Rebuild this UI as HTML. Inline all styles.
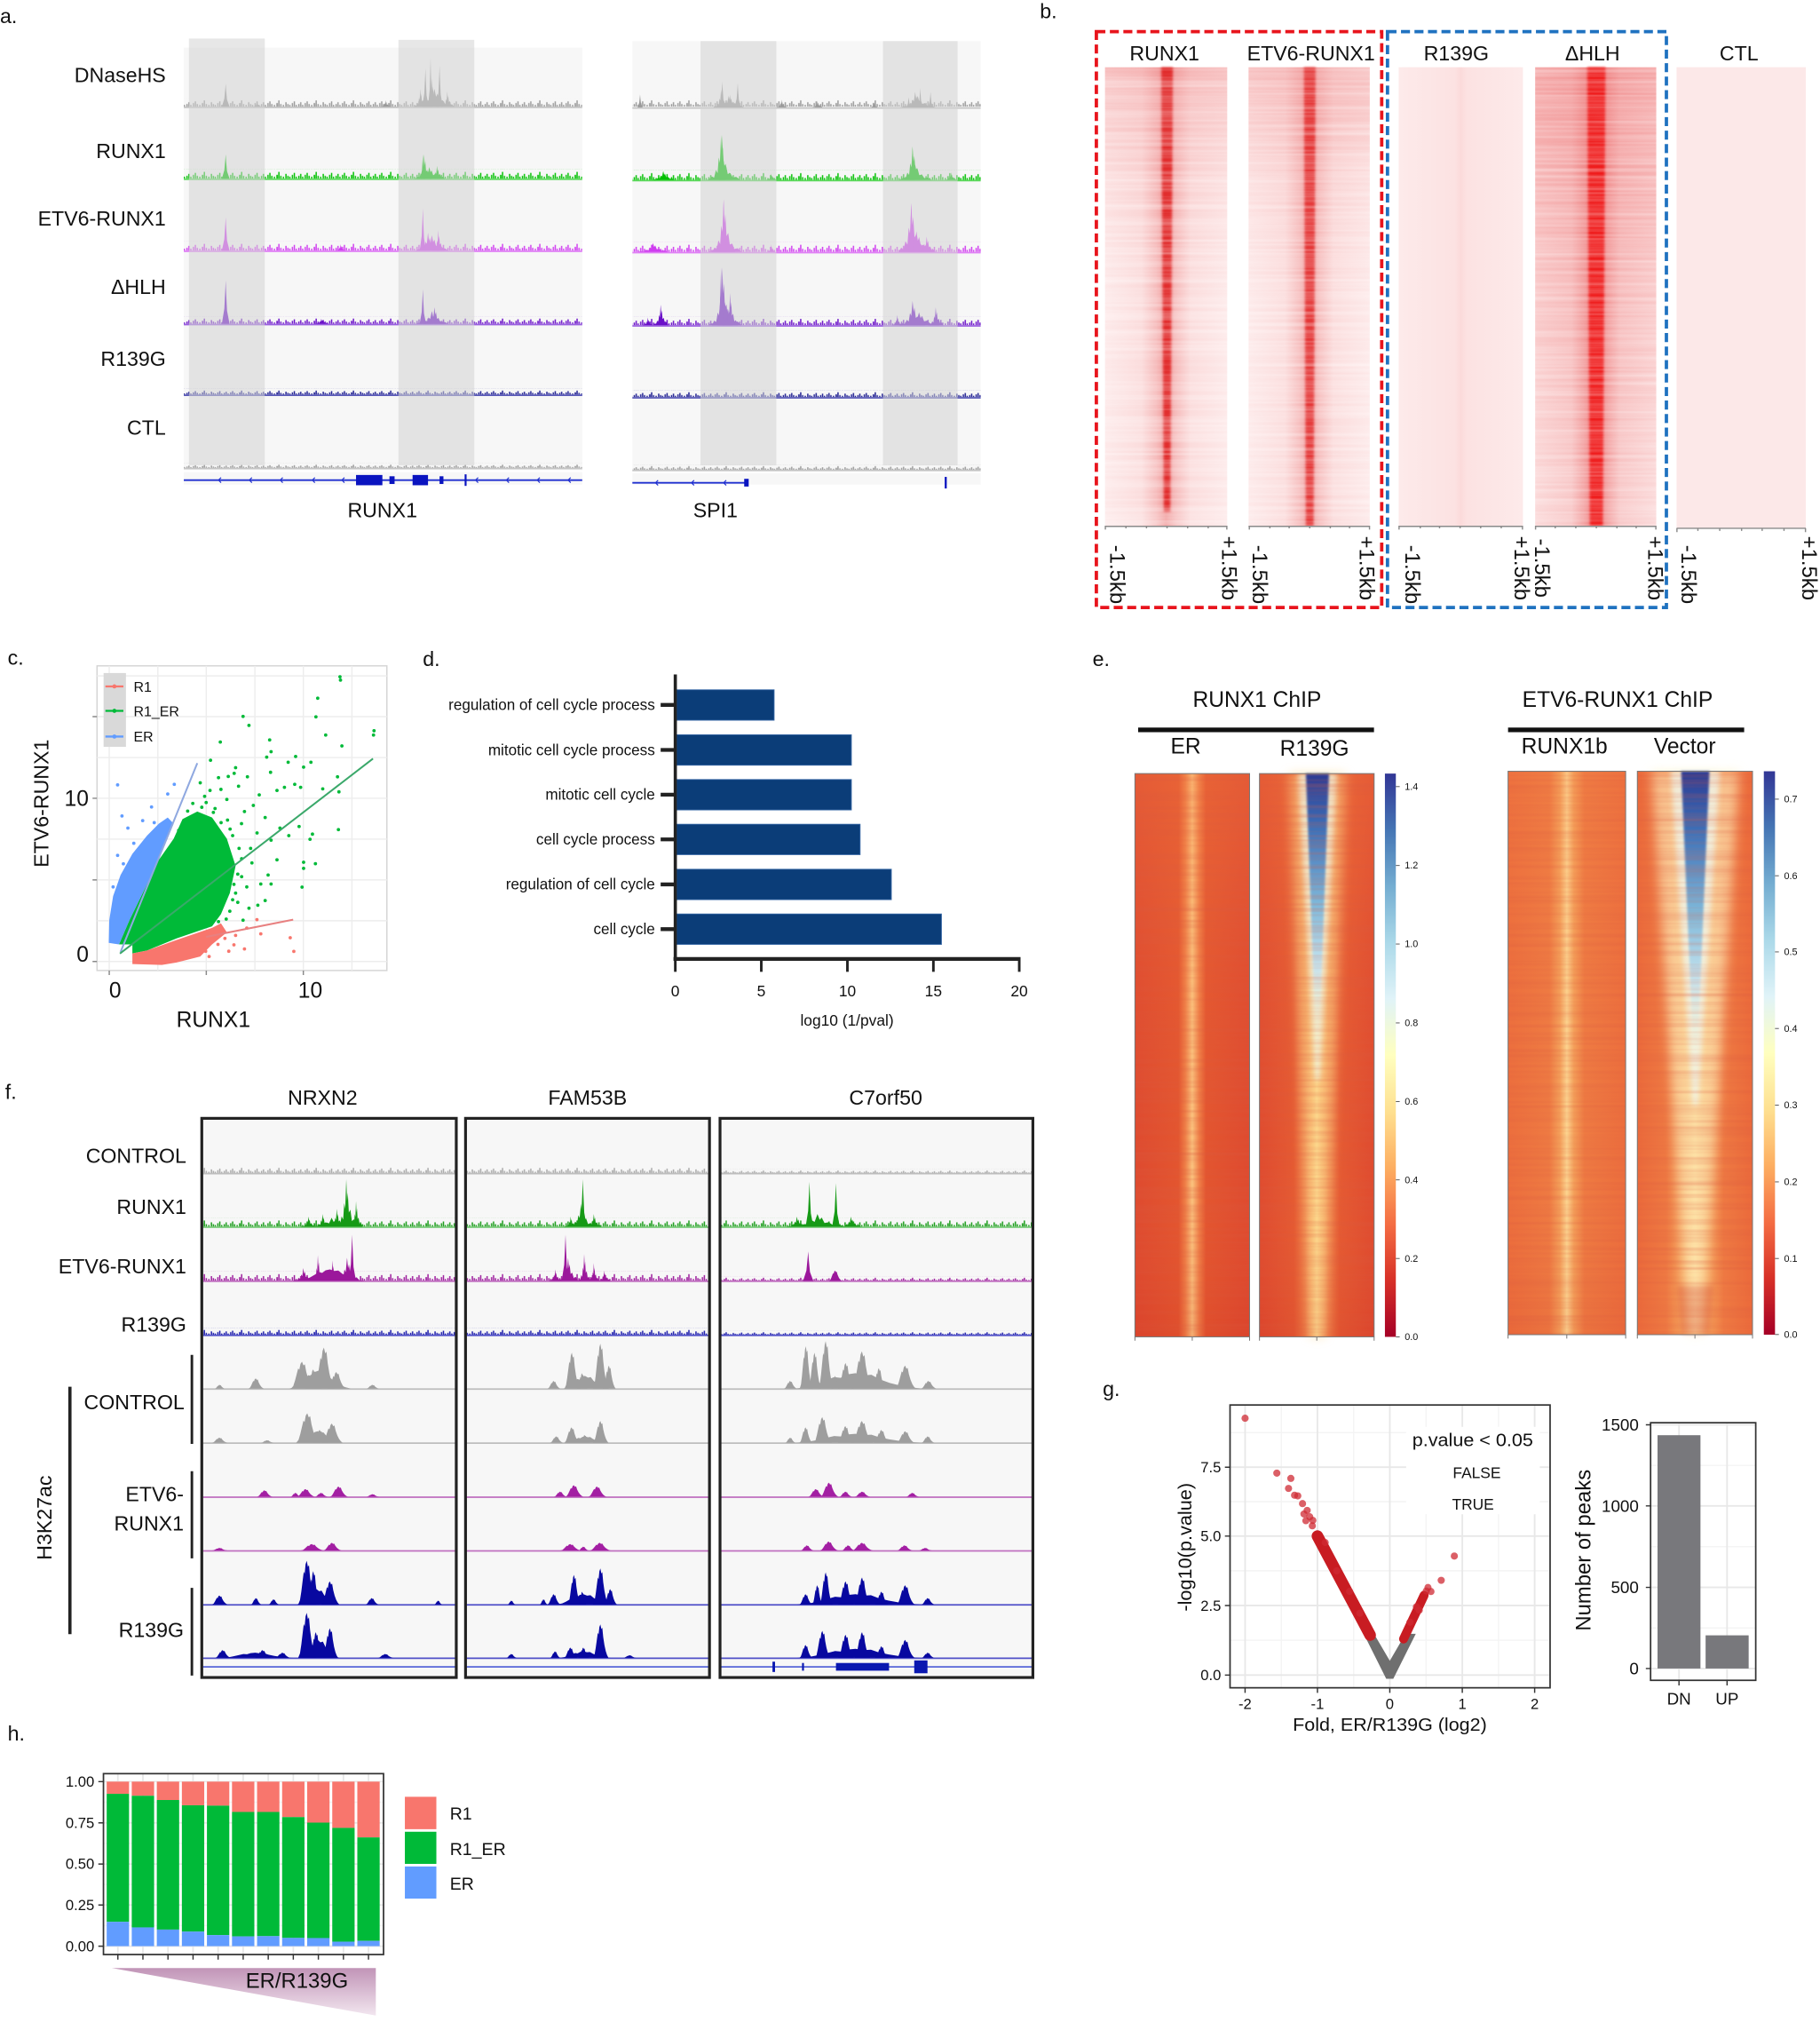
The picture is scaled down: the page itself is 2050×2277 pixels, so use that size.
<!DOCTYPE html>
<html><head><meta charset="utf-8"><style>
html,body{margin:0;padding:0;background:#fff;}
svg{display:block;}
text{font-family:"Liberation Sans",Arial,sans-serif;fill:#111;}
</style></head><body>
<svg width="2050" height="2277" viewBox="0 0 1416 1573" preserveAspectRatio="none">
<defs>
<path id="nzp" d="M0 10h1v-3h-1zM1.5 10h1v-5h-1zM3 10h1v-2h-1zM5 10h1v-4h-1zM6.5 10h1v-6h-1zM8 10h1v-3h-1zM10 10h1v-2h-1zM12 10h1.2v-4h-1.2zM13.5 10h1v-7h-1zM15 10h1v-3h-1zM17 10h1v-2h-1zM19 10h1v-5h-1zM20.5 10h1v-3h-1zM22 10h1v-2h-1zM24 10h1v-4h-1zM25.5 10h1v-6h-1zM27 10h1v-2h-1z"/>
<pattern id="pGy" width="29" height="10" patternUnits="userSpaceOnUse"><use href="#nzp" fill="#9a9a9a"/></pattern>
<pattern id="pGn" width="29" height="10" patternUnits="userSpaceOnUse"><use href="#nzp" fill="#00c000"/></pattern>
<pattern id="pMg" width="29" height="10" patternUnits="userSpaceOnUse"><use href="#nzp" fill="#d03cf0"/></pattern>
<pattern id="pPu" width="29" height="10" patternUnits="userSpaceOnUse"><use href="#nzp" fill="#6a10c8"/></pattern>
<pattern id="pNv" width="29" height="10" patternUnits="userSpaceOnUse"><use href="#nzp" fill="#1c1c90"/></pattern>
<pattern id="fGy" width="29" height="10" patternUnits="userSpaceOnUse"><use href="#nzp" fill="#a8a8a8"/></pattern>
<pattern id="fGn" width="29" height="10" patternUnits="userSpaceOnUse"><use href="#nzp" fill="#169a16"/></pattern>
<pattern id="fMg" width="29" height="10" patternUnits="userSpaceOnUse"><use href="#nzp" fill="#9b179b"/></pattern>
<pattern id="fBl" width="29" height="10" patternUnits="userSpaceOnUse"><use href="#nzp" fill="#1616a8"/></pattern>
<path id="pk" d="M-1 0L-.8-.08L-.6-.05L-.45-.22L-.3-.15L-.2-.5L-.1-.38L0-1L.08-.55L.15-.72L.25-.3L.4-.36L.55-.12L.75-.16L1 0Z"/>
<path id="sp" d="M-1 0L-.35-.35L-.1-.8L0-1L.12-.7L.35-.3L1 0Z"/>
<path id="bm" d="M-1 0L-.8-.1L-.65-.3L-.5-.55L-.38-.75L-.28-.7L-.18-.92L-.05-1L.08-.86L.2-.9L.32-.62L.48-.38L.65-.2L.82-.08L1 0Z"/>
<filter id="b1" x="-50%" y="-5%" width="200%" height="110%"><feGaussianBlur stdDeviation="1"/></filter>
<filter id="b2" x="-50%" y="-5%" width="200%" height="110%"><feGaussianBlur stdDeviation="2"/></filter>
<filter id="b4" x="-50%" y="-5%" width="200%" height="110%"><feGaussianBlur stdDeviation="4"/></filter>
<filter id="stk" x="0" y="0" width="1" height="1"><feTurbulence type="fractalNoise" baseFrequency="0.004 0.35" numOctaves="2" seed="3"/><feColorMatrix type="matrix" values="0 0 0 0 1 0 0 0 0 1 0 0 0 0 1 0.7 0 0 0 -0.22"/></filter>
<filter id="stkD" x="0" y="0" width="1" height="1"><feTurbulence type="fractalNoise" baseFrequency="0.004 0.3" numOctaves="2" seed="7"/><feColorMatrix type="matrix" values="0 0 0 0 0.7 0 0 0 0 0.1 0 0 0 0 0.05 0.6 0 0 0 -0.22"/></filter>
<linearGradient id="gbR"><stop offset="0" stop-color="#fde9e9"/><stop offset=".3" stop-color="#fbdcdc"/><stop offset=".42" stop-color="#f6bcbc"/><stop offset=".5" stop-color="#f09a9a"/><stop offset=".58" stop-color="#f6bcbc"/><stop offset=".7" stop-color="#fbdcdc"/><stop offset="1" stop-color="#fde9e9"/></linearGradient>
<linearGradient id="gbH"><stop offset="0" stop-color="#fbdada"/><stop offset=".3" stop-color="#f8c8c8"/><stop offset=".4" stop-color="#f3a3a3"/><stop offset=".5" stop-color="#ee7070"/><stop offset=".6" stop-color="#f3a3a3"/><stop offset=".7" stop-color="#f8c8c8"/><stop offset="1" stop-color="#fbdada"/></linearGradient>
<linearGradient id="gbW"><stop offset="0" stop-color="#fdeaea"/><stop offset=".45" stop-color="#fce2e2"/><stop offset=".5" stop-color="#fbdada"/><stop offset=".55" stop-color="#fce2e2"/><stop offset="1" stop-color="#fdeaea"/></linearGradient>
<linearGradient id="gTint" x1="0" y1="0" x2="0" y2="1"><stop offset="0" stop-color="#eb6e6e" stop-opacity=".35"/><stop offset=".25" stop-color="#eb6e6e" stop-opacity=".08"/><stop offset=".5" stop-color="#eb6e6e" stop-opacity="0"/></linearGradient>
<linearGradient id="gTintH" x1="0" y1="0" x2="0" y2="1"><stop offset="0" stop-color="#eb6060" stop-opacity=".45"/><stop offset=".5" stop-color="#eb6060" stop-opacity=".15"/><stop offset="1" stop-color="#eb6060" stop-opacity="0"/></linearGradient>
<linearGradient id="gE1"><stop offset="0" stop-color="#de4a2f"/><stop offset=".38" stop-color="#e3552f"/><stop offset=".44" stop-color="#ef8048"/><stop offset=".5" stop-color="#fbc47f"/><stop offset=".56" stop-color="#ef8048"/><stop offset=".62" stop-color="#e3552f"/><stop offset="1" stop-color="#de4a2f"/></linearGradient>
<linearGradient id="gE2"><stop offset="0" stop-color="#df4b2f"/><stop offset=".3" stop-color="#e55a32"/><stop offset=".4" stop-color="#ee7d45"/><stop offset=".46" stop-color="#f8b26a"/><stop offset=".5" stop-color="#fddc8f"/><stop offset=".54" stop-color="#f8b26a"/><stop offset=".6" stop-color="#ee7d45"/><stop offset=".7" stop-color="#e55a32"/><stop offset="1" stop-color="#df4b2f"/></linearGradient>
<linearGradient id="gE3"><stop offset="0" stop-color="#ec6e3d"/><stop offset=".35" stop-color="#ee7a42"/><stop offset=".44" stop-color="#f4a05a"/><stop offset=".5" stop-color="#fcd590"/><stop offset=".56" stop-color="#f4a05a"/><stop offset=".65" stop-color="#ee7a42"/><stop offset="1" stop-color="#ec6e3d"/></linearGradient>
<linearGradient id="gE4"><stop offset="0" stop-color="#eb6a3b"/><stop offset=".25" stop-color="#ee7942"/><stop offset=".4" stop-color="#f5a35c"/><stop offset=".5" stop-color="#fbc97e"/><stop offset=".6" stop-color="#f5a35c"/><stop offset=".75" stop-color="#ee7942"/><stop offset="1" stop-color="#eb6a3b"/></linearGradient>
<linearGradient id="gEv" x1="0" y1="0" x2="0" y2="1"><stop offset="0" stop-color="#f58246" stop-opacity=".3"/><stop offset=".35" stop-color="#f58246" stop-opacity=".08"/><stop offset=".7" stop-color="#f58246" stop-opacity="0"/><stop offset="1" stop-color="#be1414" stop-opacity=".12"/></linearGradient>
<linearGradient id="gFun" x1="0" y1="0" x2="0" y2="1"><stop offset="0" stop-color="#2d3a92"/><stop offset=".2" stop-color="#3d6db5"/><stop offset=".5" stop-color="#7fb8da"/><stop offset=".75" stop-color="#c9e6ef"/><stop offset="1" stop-color="#f0f8dc" stop-opacity="0"/></linearGradient>
<linearGradient id="cbar" x1="0" y1="1" x2="0" y2="0"><stop offset="0" stop-color="#a50026"/><stop offset=".1" stop-color="#d73027"/><stop offset=".2" stop-color="#f46d43"/><stop offset=".3" stop-color="#fdae61"/><stop offset=".4" stop-color="#fee090"/><stop offset=".5" stop-color="#ffffbf"/><stop offset=".6" stop-color="#e0f3f8"/><stop offset=".7" stop-color="#abd9e9"/><stop offset=".8" stop-color="#74add1"/><stop offset=".9" stop-color="#4575b4"/><stop offset="1" stop-color="#313695"/></linearGradient>
<linearGradient id="gTri" x1="0" y1="0" x2="0" y2="1"><stop offset="0" stop-color="#c194b7"/><stop offset="1" stop-color="#f2e6ef"/></linearGradient>
</defs>
<rect width="1416" height="1573" fill="#fff"/>

<!-- ================= PANEL A ================= -->
<text x="0" y="18" font-size="16">a.</text>
<rect x="143" y="37" width="310" height="340" fill="#f7f7f7"/>
<rect x="492" y="32" width="271" height="345" fill="#f7f7f7"/>
<path d="M143 366.5H453M492 367.5H763" stroke="#fff" stroke-width="1.5"/>
<g transform="translate(0 83) scale(1 .7)"><rect x="143" y="-10" width="310" height="10" fill="url(#pGy)"/><rect x="492" y="-10" width="271" height="10" fill="url(#pGy)"/></g>
<g transform="translate(0 139) scale(1 .75)"><rect x="143" y="-10" width="310" height="10" fill="url(#pGn)"/></g>
<g transform="translate(0 140) scale(1 .75)"><rect x="492" y="-10" width="271" height="10" fill="url(#pGn)"/></g>
<g transform="translate(0 195) scale(1 .75)"><rect x="143" y="-10" width="310" height="10" fill="url(#pMg)"/></g>
<g transform="translate(0 196) scale(1 .8)"><rect x="492" y="-10" width="271" height="10" fill="url(#pMg)"/></g>
<g transform="translate(0 252) scale(1 .6)"><rect x="143" y="-10" width="310" height="10" fill="url(#pPu)"/></g>
<g transform="translate(0 253) scale(1 .7)"><rect x="492" y="-10" width="271" height="10" fill="url(#pPu)"/></g>
<g transform="translate(0 307) scale(1 .45)"><rect x="143" y="-10" width="310" height="10" fill="url(#pNv)"/></g>
<g transform="translate(0 309) scale(1 .55)"><rect x="492" y="-10" width="271" height="10" fill="url(#pNv)"/></g>
<g transform="translate(0 364) scale(1 .35)"><rect x="143" y="-10" width="310" height="10" fill="url(#pGy)"/></g>
<g transform="translate(0 365.5) scale(1 .4)"><rect x="492" y="-10" width="271" height="10" fill="url(#pGy)"/></g>
<g stroke-width="1.2" fill="none">
<path d="M143 83.5H453M492 84H763M143 364.5H453M492 366H763" stroke="#c4c4c4"/>
<path d="M143 139.5H453M492 140.5H763" stroke="#5ad85a"/>
<path d="M143 195.5H453M492 196.5H763" stroke="#e080f5"/>
<path d="M143 252.5H453M492 253.5H763" stroke="#9a60e0"/>
<path d="M143 307.5H453M492 309.5H763" stroke="#5a5ab8"/>
</g>
<g fill="#9a9a9a">
<use href="#sp" transform="translate(175.6 83) scale(3 18)"/><use href="#pk" transform="translate(338 83) scale(16 14)"/><use href="#pk" transform="translate(327 83) scale(5 14)"/><use href="#sp" transform="translate(331 83) scale(2.5 30)"/><use href="#pk" transform="translate(336 83) scale(6 22)"/><use href="#sp" transform="translate(335 83) scale(2 38)"/><use href="#sp" transform="translate(342 83) scale(2.5 32)"/><use href="#pk" transform="translate(348 83) scale(5 12)"/><use href="#pk" transform="translate(300 83) scale(4 5)"/><use href="#pk" transform="translate(200 83) scale(3 4)"/>
<use href="#sp" transform="translate(498 83.5) scale(2 10)"/><use href="#pk" transform="translate(567 83.5) scale(12 9)"/><use href="#pk" transform="translate(561 83.5) scale(6 14)"/><use href="#sp" transform="translate(562 83.5) scale(2.5 20)"/><use href="#sp" transform="translate(574 83.5) scale(2.5 19)"/><use href="#pk" transform="translate(568 83.5) scale(5 10)"/><use href="#pk" transform="translate(714 83.5) scale(14 9)"/><use href="#pk" transform="translate(712 83.5) scale(10 12)"/><use href="#sp" transform="translate(707 83.5) scale(2 8)"/><use href="#sp" transform="translate(716 83.5) scale(2 15)"/><use href="#sp" transform="translate(724 83.5) scale(2 12)"/><use href="#pk" transform="translate(608 83.5) scale(4 6)"/><use href="#pk" transform="translate(636 83.5) scale(4 5)"/><use href="#pk" transform="translate(680 83.5) scale(3 4)"/>
</g>
<g fill="#00c000">
<use href="#sp" transform="translate(175.6 139) scale(3 19)"/><use href="#pk" transform="translate(334 139) scale(12 9)"/><use href="#pk" transform="translate(330 139) scale(6 19)"/><use href="#sp" transform="translate(329 139) scale(2 19)"/><use href="#pk" transform="translate(340 139) scale(6 10)"/>
<use href="#pk" transform="translate(563 140) scale(13 15)"/><use href="#pk" transform="translate(561 140) scale(9 35)"/><use href="#sp" transform="translate(562 140) scale(2.5 35)"/><use href="#pk" transform="translate(712 140) scale(13 12)"/><use href="#pk" transform="translate(710 140) scale(9 26)"/><use href="#sp" transform="translate(710 140) scale(2 26)"/><use href="#pk" transform="translate(516 140) scale(9 7)"/><use href="#pk" transform="translate(740 140) scale(4 6)"/><use href="#pk" transform="translate(600 140) scale(4 5)"/>
</g>
<g fill="#cf3cf0">
<use href="#sp" transform="translate(175.6 195) scale(3 26)"/><use href="#pk" transform="translate(336 195) scale(13 12)"/><use href="#sp" transform="translate(329 195) scale(2.5 33)"/><use href="#pk" transform="translate(333 195) scale(9 14)"/><use href="#pk" transform="translate(341 195) scale(5 16)"/><use href="#pk" transform="translate(265 195) scale(4 5)"/>
<use href="#pk" transform="translate(564 196) scale(13 18)"/><use href="#pk" transform="translate(563 196) scale(9 41)"/><use href="#sp" transform="translate(563 196) scale(2.5 41)"/><use href="#pk" transform="translate(713 196) scale(14 16)"/><use href="#pk" transform="translate(709 196) scale(10 38)"/><use href="#sp" transform="translate(709 196) scale(2.5 38)"/><use href="#pk" transform="translate(721 196) scale(7 12)"/><use href="#pk" transform="translate(508 196) scale(12 7)"/><use href="#pk" transform="translate(600 196) scale(3 6)"/>
</g>
<g fill="#6a10c8">
<use href="#sp" transform="translate(175.6 252) scale(3 34)"/><use href="#pk" transform="translate(336 252) scale(13 10)"/><use href="#sp" transform="translate(329 252) scale(2.5 27)"/><use href="#pk" transform="translate(338 252) scale(8 13)"/><use href="#pk" transform="translate(250 252) scale(6 4)"/>
<use href="#pk" transform="translate(564 253) scale(13 18)"/><use href="#pk" transform="translate(562 253) scale(8 45)"/><use href="#sp" transform="translate(561 253) scale(2.5 45)"/><use href="#pk" transform="translate(568 253) scale(6 25)"/><use href="#pk" transform="translate(514 253) scale(6 16)"/><use href="#pk" transform="translate(504 253) scale(4 6)"/><use href="#pk" transform="translate(715 253) scale(16 10)"/><use href="#pk" transform="translate(710 253) scale(10 19)"/><use href="#pk" transform="translate(728 253) scale(6 14)"/><use href="#pk" transform="translate(698 253) scale(4 8)"/>
</g>
<path d="M143 373.5H453M492 375.6H582" stroke="#2030d0" stroke-width="1.3"/>
<path d="M172 371.5l-2 2 2 2M196 371.5l-2 2 2 2M220 371.5l-2 2 2 2M245 371.5l-2 2 2 2M268 371.5l-2 2 2 2M372 371.5l-2 2 2 2M396 371.5l-2 2 2 2M420 371.5l-2 2 2 2M444 371.5l-2 2 2 2M512 373.6l-2 2 2 2M540 373.6l-2 2 2 2M565 373.6l-2 2 2 2" stroke="#2030d0" stroke-width=".8" fill="none"/>
<g fill="#0a14c0"><rect x="277" y="369.5" width="20.5" height="8"/><rect x="303" y="370.5" width="4" height="6"/><rect x="321" y="369.5" width="12" height="8"/><rect x="342" y="370.5" width="3" height="6"/><rect x="361.5" y="369" width="1.5" height="9"/><rect x="579" y="372.5" width="3.5" height="6"/><rect x="735" y="371" width="1.6" height="9"/></g>
<g fill="#d4d4d4" fill-opacity=".55"><rect x="147" y="30" width="59" height="332"/><rect x="310" y="31" width="59" height="331"/><rect x="545" y="32" width="59" height="330"/><rect x="687" y="32" width="58" height="330"/></g>
<g font-size="16" text-anchor="end"><text x="129" y="64">DNaseHS</text><text x="129" y="123">RUNX1</text><text x="129" y="175.5">ETV6-RUNX1</text><text x="129" y="228.5">ΔHLH</text><text x="129" y="284.5">R139G</text><text x="129" y="338">CTL</text></g>
<g font-size="16" text-anchor="middle"><text x="297.5" y="402.5">RUNX1</text><text x="556.6" y="402.5">SPI1</text></g>

<!-- ================= PANEL B ================= -->
<text x="809" y="14" font-size="16">b.</text>
<rect x="859.7" y="52.3" width="95.1" height="357.1" fill="url(#gbR)"/>
<rect x="859.7" y="52.3" width="95.1" height="357.1" fill="url(#gTint)"/>
<path d="M903.5 52.3H912.5L910.5 398H905.5Z" fill="#e02222" opacity=".9" filter="url(#b1)"/>
<rect x="971.4" y="52.3" width="94.3" height="357.1" fill="url(#gbR)"/>
<rect x="971.4" y="52.3" width="94.3" height="357.1" fill="url(#gTint)"/>
<path d="M1014.5 52.3H1023.5L1022 409H1016Z" fill="#e32a2a" opacity=".88" filter="url(#b1)"/>
<rect x="1088.2" y="52.3" width="96.7" height="357.1" fill="url(#gbW)"/>
<rect x="1194.4" y="52.3" width="94.2" height="357.1" fill="url(#gbH)"/>
<rect x="1194.4" y="52.3" width="94.2" height="357.1" fill="url(#gTintH)"/>
<path d="M1235 52.3H1249L1247 409H1237Z" fill="#ef1a1a" filter="url(#b1)"/>
<rect x="1304.4" y="52.3" width="100.6" height="358.7" fill="#fce8e8"/>
<rect x="859.7" y="52.3" width="95.1" height="357.1" filter="url(#stk)"/>
<rect x="971.4" y="52.3" width="94.3" height="357.1" filter="url(#stk)"/>
<rect x="1194.4" y="52.3" width="94.2" height="357.1" filter="url(#stk)"/>
<g stroke="#8a8a8a" stroke-width="1" fill="none">
<path d="M859.7 409.5H954.8M971.4 409.5H1065.7M1088.2 409.5H1184.9M1194.4 409.5H1288.6M1304.4 411H1405"/>
<path d="M860 409v3M876 409v2M892 409v2M908 409v2M924 409v2M940 409v2M954.5 409v3M972 409v3M988 409v2M1003 409v2M1019 409v2M1035 409v2M1050 409v2M1065.5 409v3M1088.5 409v3M1105 409v2M1120 409v2M1136 409v2M1152 409v2M1168 409v2M1184.5 409v3M1194.7 409v3M1210 409v2M1226 409v2M1242 409v2M1258 409v2M1273 409v2M1288.3 409v3M1304.7 411v3M1321 411v2M1338 411v2M1355 411v2M1371 411v2M1388 411v2M1404.7 411v3"/>
</g>
<rect x="853" y="24.6" width="222" height="448" fill="none" stroke="#e8141c" stroke-width="2.6" stroke-dasharray="7 3.5"/>
<rect x="1079.5" y="24.6" width="217" height="448" fill="none" stroke="#1f72c0" stroke-width="2.6" stroke-dasharray="7 3.5"/>
<g font-size="16" text-anchor="middle"><text x="906" y="47">RUNX1</text><text x="1020" y="47">ETV6-RUNX1</text><text x="1133" y="47">R139G</text><text x="1239" y="47">ΔHLH</text><text x="1353" y="47">CTL</text></g>
<g font-size="16.5">
<text transform="translate(863.7 424) rotate(90)">-1.5kb</text><text transform="translate(950.8 417) rotate(90)">+1.5kb</text>
<text transform="translate(974.6 424) rotate(90)">-1.5kb</text><text transform="translate(1057.7 417) rotate(90)">+1.5kb</text>
<text transform="translate(1093.4 424) rotate(90)">-1.5kb</text><text transform="translate(1178.5 417) rotate(90)">+1.5kb</text>
<text transform="translate(1194.4 419) rotate(90)">-1.5kb</text><text transform="translate(1282.3 417) rotate(90)">+1.5kb</text>
<text transform="translate(1308.4 424) rotate(90)">-1.5kb</text><text transform="translate(1402.3 417) rotate(90)">+1.5kb</text>
</g>

<!-- ================= PANEL C ================= -->
<text x="6" y="517" font-size="16">c.</text>
<rect x="75.5" y="518" width="225.5" height="237" fill="#fff" stroke="#d4d4d4" stroke-width="1"/>
<g stroke="#ededed" stroke-width="1">
<path d="M85 518V755M122.8 518V755M160.5 518V755M198.3 518V755M236 518V755M273.8 518V755"/>
<path d="M75.5 748H301M75.5 716.3H301M75.5 684.5H301M75.5 652.8H301M75.5 621H301M75.5 589.3H301M75.5 557.5H301M75.5 525.8H301"/>
</g>
<path d="M72 748h3.5M72 684.5h3.5M72 621h3.5M72 557.5h3.5M85 755v3.5M160.5 755v3.5M236 755v3.5" stroke="#888" stroke-width="1"/>
<polygon fill="#00ba38" points="92.6,734.7 100.7,715.9 114.4,687.7 123.6,668.9 135.1,652.5 142,637.2 153.5,631.3 165,636 176.5,652.5 183.3,673.6 178.8,694.8 171.9,711.2 165,720.6 137.4,730 114.4,739.4 103,741.7 103,734.7"/>
<polygon fill="#619cff" points="84.6,733.5 85,715.9 88,697.1 93.8,680.7 103,664.2 114.4,650.1 123.6,640.7 130.5,636 135.1,640.7 123.6,668.9 114.4,687.7 100.7,715.9 92.6,734.7"/>
<polygon fill="#f8766d" points="103,750 103,741.7 114.4,739.4 137.4,731.2 165,721.8 171.9,718.3 176.5,725.3 165,734.7 155.8,744.1 137.4,748.8 125.9,750.7"/>
<g fill="#00ba38">
<circle cx="264.9" cy="529.1" r="1.3"/><circle cx="247.2" cy="543.2" r="1.3"/><circle cx="245.8" cy="557.7" r="1.3"/><circle cx="189.1" cy="557.3" r="1.3"/><circle cx="193.7" cy="564.3" r="1.3"/><circle cx="253.4" cy="571.8" r="1.3"/><circle cx="290.6" cy="571.8" r="1.3"/><circle cx="266" cy="580.3" r="1.3"/><circle cx="171.4" cy="577.3" r="1.3"/><circle cx="209.8" cy="575.6" r="1.3"/><circle cx="210.9" cy="584.8" r="1.3"/><circle cx="207.5" cy="589" r="1.3"/><circle cx="230" cy="588.5" r="1.3"/><circle cx="236.2" cy="596.8" r="1.3"/><circle cx="241.9" cy="593" r="1.3"/><circle cx="224.2" cy="593" r="1.3"/><circle cx="210.5" cy="600.8" r="1.3"/><circle cx="183.3" cy="597.2" r="1.3"/><circle cx="182.2" cy="601.6" r="1.3"/><circle cx="192.5" cy="604.3" r="1.3"/><circle cx="177.6" cy="604" r="1.3"/><circle cx="185.6" cy="611.6" r="1.3"/><circle cx="163.8" cy="591.4" r="1.3"/><circle cx="155.8" cy="609" r="1.3"/><circle cx="163.4" cy="614.9" r="1.3"/><circle cx="171.9" cy="614.1" r="1.3"/><circle cx="201.7" cy="618.4" r="1.3"/><circle cx="215.5" cy="614.9" r="1.3"/><circle cx="221.3" cy="612.5" r="1.3"/><circle cx="229.3" cy="610.2" r="1.3"/><circle cx="233.9" cy="612.5" r="1.3"/><circle cx="251.1" cy="613.7" r="1.3"/><circle cx="263.7" cy="616" r="1.3"/><circle cx="262.6" cy="604.3" r="1.3"/><circle cx="263.3" cy="645.4" r="1.3"/><circle cx="243.1" cy="648.9" r="1.3"/><circle cx="241.2" cy="652.9" r="1.3"/><circle cx="245.4" cy="671.9" r="1.3"/><circle cx="236.2" cy="670.8" r="1.3"/><circle cx="236.2" cy="675.5" r="1.3"/><circle cx="235" cy="690.1" r="1.3"/><circle cx="232.7" cy="643" r="1.3"/><circle cx="217.8" cy="644.2" r="1.3"/><circle cx="210.9" cy="653.6" r="1.3"/><circle cx="224.7" cy="650.1" r="1.3"/><circle cx="208.6" cy="680.7" r="1.3"/><circle cx="202.9" cy="687.7" r="1.3"/><circle cx="210.9" cy="687.7" r="1.3"/><circle cx="200.6" cy="704.2" r="1.3"/><circle cx="206.3" cy="700.6" r="1.3"/><circle cx="193.7" cy="706.5" r="1.3"/><circle cx="189.1" cy="715.9" r="1.3"/><circle cx="183.3" cy="694.8" r="1.3"/><circle cx="173" cy="697.1" r="1.3"/><circle cx="178.8" cy="708.9" r="1.3"/><circle cx="196" cy="671.3" r="1.3"/><circle cx="197.1" cy="626.6" r="1.3"/><circle cx="190.2" cy="631.3" r="1.3"/><circle cx="206.3" cy="636" r="1.3"/><circle cx="176.5" cy="621.9" r="1.3"/><circle cx="167.3" cy="629" r="1.3"/><circle cx="160.4" cy="624.3" r="1.3"/><circle cx="148.9" cy="636" r="1.3"/><circle cx="142" cy="640.7" r="1.3"/><circle cx="159.2" cy="619.5" r="1.3"/><circle cx="181" cy="650.1" r="1.3"/><circle cx="187.9" cy="640.7" r="1.3"/><circle cx="215.5" cy="668.9" r="1.3"/><circle cx="264.5" cy="526.5" r="1.3"/><circle cx="291" cy="568.5" r="1.3"/><circle cx="195" cy="660" r="1.3"/><circle cx="188" cy="682" r="1.3"/><circle cx="200" cy="648" r="1.3"/><circle cx="192" cy="690" r="1.3"/><circle cx="185" cy="702" r="1.3"/><circle cx="170" cy="605" r="1.3"/><circle cx="150" cy="625" r="1.3"/><circle cx="177" cy="638" r="1.3"/>
<circle cx="186" cy="660" r="1.3"/><circle cx="188" cy="668" r="1.3"/><circle cx="185" cy="680" r="1.3"/><circle cx="182" cy="688" r="1.3"/><circle cx="179" cy="645" r="1.3"/><circle cx="172" cy="640" r="1.3"/><circle cx="166" cy="632" r="1.3"/><circle cx="157" cy="628" r="1.3"/><circle cx="146" cy="631" r="1.3"/><circle cx="139" cy="646" r="1.3"/><circle cx="181" cy="700" r="1.3"/><circle cx="176" cy="715" r="1.3"/><circle cx="170" cy="717" r="1.3"/>
</g>
<g fill="#619cff">
<circle cx="91.5" cy="610.6" r="1.3"/><circle cx="94.9" cy="634.8" r="1.3"/><circle cx="99.5" cy="644.2" r="1.3"/><circle cx="91.5" cy="665.4" r="1.3"/><circle cx="117.9" cy="627.8" r="1.3"/><circle cx="111" cy="638.4" r="1.3"/><circle cx="130.5" cy="617.7" r="1.3"/><circle cx="135.6" cy="610.2" r="1.3"/><circle cx="104.1" cy="656" r="1.3"/><circle cx="108.7" cy="661.9" r="1.3"/><circle cx="128.2" cy="644.2" r="1.3"/><circle cx="88" cy="690" r="1.3"/><circle cx="96" cy="672" r="1.3"/><circle cx="120" cy="640" r="1.3"/>
</g>
<g fill="#f8766d">
<circle cx="225.8" cy="729.5" r="1.3"/><circle cx="228.6" cy="740.1" r="1.3"/><circle cx="199.9" cy="715.4" r="1.3"/><circle cx="202.9" cy="726.5" r="1.3"/><circle cx="190.2" cy="738.2" r="1.3"/><circle cx="162.7" cy="744.1" r="1.3"/><circle cx="183.3" cy="727.7" r="1.3"/><circle cx="169.6" cy="734.7" r="1.3"/><circle cx="192" cy="722" r="1.3"/><circle cx="178" cy="740" r="1.3"/><circle cx="175" cy="730" r="1.3"/><circle cx="182" cy="735" r="1.3"/><circle cx="160" cy="740" r="1.3"/>
</g>
<path d="M93.8 740.6L153.5 593.7" stroke="#8fa8e0" stroke-width="1.4"/>
<path d="M93.3 741.8L290.2 590.2" stroke="#3aa86a" stroke-width="1.4"/>
<path d="M160.4 728.8L228.1 715.4" stroke="#e88080" stroke-width="1.4"/>
<rect x="80.6" y="523.6" width="17.4" height="57.4" fill="#d9d9d9"/>
<path d="M82 534H96" stroke="#f8766d" stroke-width="1.6"/><circle cx="89" cy="534" r="1.6" fill="#f8766d"/>
<path d="M82 553H96" stroke="#00ba38" stroke-width="1.6"/><circle cx="89" cy="553" r="1.6" fill="#00ba38"/>
<path d="M82 573H96" stroke="#619cff" stroke-width="1.6"/><circle cx="89" cy="573" r="1.6" fill="#619cff"/>
<g font-size="11"><text x="104" y="538">R1</text><text x="104" y="557">R1_ER</text><text x="104" y="577">ER</text></g>
<g font-size="17"><text x="69" y="627" text-anchor="end">10</text><text x="69" y="748" text-anchor="end">0</text><text x="89.6" y="776" text-anchor="middle">0</text><text x="241.4" y="776" text-anchor="middle">10</text><text x="166" y="799" text-anchor="middle">RUNX1</text></g>
<text transform="translate(37.6 625) rotate(-90)" font-size="16" text-anchor="middle">ETV6-RUNX1</text>

<!-- ================= PANEL D ================= -->
<text x="329" y="518" font-size="16">d.</text>
<g fill="#0b3d78" stroke="#3a6aa8" stroke-width=".6">
<rect x="526.5" y="536.6" width="75.8" height="23.7"/><rect x="526.5" y="571.6" width="135.9" height="23.7"/><rect x="526.5" y="606.4" width="135.9" height="23.7"/><rect x="526.5" y="641.2" width="142.7" height="23.7"/><rect x="526.5" y="676.2" width="167" height="23.7"/><rect x="526.5" y="711" width="206" height="23.7"/>
</g>
<path d="M525.4 524.7V747" stroke="#222" stroke-width="2.5"/>
<path d="M524 746H794" stroke="#222" stroke-width="3"/>
<path d="M525.4 746v10M592.3 746v10M659.3 746v10M726.2 746v10M793 746v10" stroke="#222" stroke-width="2"/>
<path d="M514 548.4h11M514 583.4h11M514 618.2h11M514 653h11M514 688h11M514 722.8h11" stroke="#222" stroke-width="3"/>
<g font-size="11.8" text-anchor="end"><text x="509.6" y="552.4">regulation of cell cycle process</text><text x="509.6" y="587.4">mitotic cell cycle process</text><text x="509.6" y="622.2">mitotic cell cycle</text><text x="509.6" y="657">cell cycle process</text><text x="509.6" y="692">regulation of cell cycle</text><text x="509.6" y="726.8">cell cycle</text></g>
<g font-size="12" text-anchor="middle"><text x="525.4" y="775">0</text><text x="592.3" y="775">5</text><text x="659.3" y="775">10</text><text x="726.2" y="775">15</text><text x="793" y="775">20</text><text x="659" y="798">log10 (1/pval)</text></g>

<!-- ================= PANEL E ================= -->
<text x="850" y="518" font-size="16">e.</text>
<g font-size="17" text-anchor="middle"><text x="978" y="550">RUNX1 ChIP</text><text x="1258.5" y="550">ETV6-RUNX1 ChIP</text><text x="922.5" y="586">ER</text><text x="1022.7" y="588">R139G</text><text x="1217.2" y="586">RUNX1b</text><text x="1310.8" y="586">Vector</text></g>
<rect x="885.5" y="566" width="183.5" height="3.6" fill="#111"/>
<rect x="1173.3" y="566" width="183.7" height="3.6" fill="#111"/>
<rect x="883" y="601.8" width="89.2" height="438.2" fill="url(#gE1)"/>
<rect x="883" y="601.8" width="89.2" height="438.2" fill="url(#gEv)"/>
<rect x="979.9" y="601.8" width="89.2" height="438.2" fill="url(#gE2)"/>
<rect x="979.9" y="601.8" width="89.2" height="438.2" fill="url(#gEv)"/>
<path d="M1002.9 601.8H1046.9L1031 1040H1019Z" fill="#fcd58a" opacity=".55" filter="url(#b4)"/>
<path d="M1010 601.8H1040L1027 840H1023Z" fill="#eef6e6" opacity=".7" filter="url(#b2)"/>
<path d="M1016 601.8H1034L1026.5 805H1023.5Z" fill="url(#gFun)" filter="url(#b1)"/>
<rect x="1173.3" y="600" width="91.5" height="438.3" fill="url(#gE3)"/>
<rect x="1173.3" y="600" width="91.5" height="438.3" fill="url(#gEv)" opacity=".6"/>
<rect x="1273.9" y="600" width="89.6" height="438.3" fill="url(#gE4)"/>
<path d="M1285 600H1353L1325 1038H1313Z" fill="#fff2c0" opacity=".6" filter="url(#b4)"/>
<path d="M1300 600H1338L1321 860H1317Z" fill="#eef5ee" opacity=".75" filter="url(#b2)"/>
<path d="M1308 600H1330L1320.5 820H1317.5Z" fill="url(#gFun)" filter="url(#b1)"/>
<path d="M1305 1000H1333L1330 1038H1308Z" fill="#c81e1e" opacity=".25" filter="url(#b2)"/>
<rect x="883" y="601.8" width="89.2" height="438.2" filter="url(#stkD)"/>
<rect x="979.9" y="601.8" width="89.2" height="438.2" filter="url(#stkD)"/>
<rect x="1173.3" y="600" width="91.5" height="438.3" filter="url(#stkD)"/>
<rect x="1273.9" y="600" width="89.6" height="438.3" filter="url(#stkD)"/>
<g fill="none" stroke="#777" stroke-width=".7"><rect x="883" y="601.8" width="89.2" height="438.2"/><rect x="979.9" y="601.8" width="89.2" height="438.2"/><rect x="1173.3" y="600" width="91.5" height="438.3"/><rect x="1273.9" y="600" width="89.6" height="438.3"/>
<path d="M883 1040v3M927.6 1040v3M972.2 1040v3M979.9 1040v3M1024.5 1040v3M1069.1 1040v3M1173.3 1038.3v3M1219 1038.3v3M1264.8 1038.3v3M1273.9 1038.3v3M1318.7 1038.3v3M1363.5 1038.3v3"/></g>
<rect x="1077.5" y="601.8" width="8.5" height="438.2" fill="url(#cbar)"/>
<rect x="1372.3" y="600" width="8.7" height="438.3" fill="url(#cbar)"/>
<path d="M1086 611.9h3M1086 673.3h3M1086 734.4h3M1086 795.8h3M1086 856.9h3M1086 917.9h3M1086 979h3M1086 1040h3M1381 621.7h3M1381 681.3h3M1381 740.5h3M1381 800.1h3M1381 859.8h3M1381 919.4h3M1381 979h3M1381 1038.2h3" stroke="#444" stroke-width=".6"/>
<g font-size="7.5" fill="#333"><text x="1092.9" y="614.4">1.4</text><text x="1092.9" y="675.8">1.2</text><text x="1092.9" y="736.9">1.0</text><text x="1092.9" y="798.3">0.8</text><text x="1092.9" y="859.4">0.6</text><text x="1092.9" y="920.4">0.4</text><text x="1092.9" y="981.5">0.2</text><text x="1092.9" y="1042.5">0.0</text>
<text x="1388" y="624.2">0.7</text><text x="1388" y="683.8">0.6</text><text x="1388" y="743">0.5</text><text x="1388" y="802.6">0.4</text><text x="1388" y="862.3">0.3</text><text x="1388" y="921.9">0.2</text><text x="1388" y="981.5">0.1</text><text x="1388" y="1040.7">0.0</text></g>

<!-- ================= PANEL F ================= -->
<text x="4" y="855" font-size="16">f.</text>
<g font-size="16" text-anchor="middle"><text x="251" y="859.5">NRXN2</text><text x="457.1" y="859.5">FAM53B</text><text x="689.1" y="859.5">C7orf50</text></g>
<g fill="#f7f7f7"><rect x="157" y="870" width="198" height="435"/><rect x="362.2" y="870" width="189.8" height="435"/><rect x="560.2" y="870" width="243.4" height="435"/></g>
<g transform="translate(0 912.7) scale(1 .6)"><rect x="158" y="-10" width="196" height="10" fill="url(#fGy)"/><rect x="363" y="-10" width="188" height="10" fill="url(#fGy)"/></g>
<g transform="translate(0 912.7) scale(1 .3)"><rect x="561" y="-10" width="242" height="10" fill="url(#fGy)"/></g>
<g transform="translate(0 954.4) scale(1 .7)"><rect x="158" y="-10" width="196" height="10" fill="url(#fGn)"/><rect x="363" y="-10" width="188" height="10" fill="url(#fGn)"/><rect x="561" y="-10" width="242" height="10" fill="url(#fGn)"/></g>
<g transform="translate(0 996.5) scale(1 .75)"><rect x="158" y="-10" width="196" height="10" fill="url(#fMg)"/><rect x="363" y="-10" width="188" height="10" fill="url(#fMg)"/></g>
<g transform="translate(0 996.5) scale(1 .35)"><rect x="561" y="-10" width="242" height="10" fill="url(#fMg)"/></g>
<g transform="translate(0 1038.5) scale(1 .55)"><rect x="158" y="-10" width="196" height="10" fill="url(#fBl)"/><rect x="363" y="-10" width="188" height="10" fill="url(#fBl)"/></g>
<g transform="translate(0 1038.5) scale(1 .3)"><rect x="561" y="-10" width="242" height="10" fill="url(#fBl)"/></g>
<g stroke-width="1.2">
<path d="M158 913H354M363 913H551M561 913H803M158 1080.6H354M363 1080.6H551M561 1080.6H803M158 1122.7H354M363 1122.7H551M561 1122.7H803" stroke="#bdbdbd"/>
<path d="M158 954.7H354M363 954.7H551M561 954.7H803" stroke="#7ccc7c"/>
<path d="M158 996.8H354M363 996.8H551M561 996.8H803M158 1164.7H354M363 1164.7H551M561 1164.7H803M158 1206.5H354M363 1206.5H551M561 1206.5H803" stroke="#c070c0"/>
<path d="M158 1038.8H354M363 1038.8H551M561 1038.8H803M158 1248.5H354M363 1248.5H551M561 1248.5H803M158 1290H354M363 1290H551M561 1290H803" stroke="#5050c8"/>
</g>
<g fill="#169a16">
<use href="#pk" transform="translate(269.4 954.4) scale(8 37)"/><use href="#pk" transform="translate(262 954.4) scale(6 14)"/><use href="#pk" transform="translate(277 954.4) scale(5 20)"/><use href="#pk" transform="translate(251 954.4) scale(6 10)"/><use href="#pk" transform="translate(240 954.4) scale(6 8)"/><use href="#pk" transform="translate(258 954.4) scale(20 7)"/>
<use href="#sp" transform="translate(453.5 954.4) scale(3 37)"/><use href="#pk" transform="translate(452 954.4) scale(10 18)"/><use href="#pk" transform="translate(462 954.4) scale(6 10)"/><use href="#pk" transform="translate(444 954.4) scale(5 8)"/>
<use href="#sp" transform="translate(629.8 954.4) scale(3 35)"/><use href="#sp" transform="translate(650.4 954.4) scale(3 34)"/><use href="#pk" transform="translate(636 954.4) scale(22 10)"/><use href="#pk" transform="translate(620 954.4) scale(8 8)"/><use href="#pk" transform="translate(662 954.4) scale(8 8)"/>
</g>
<g fill="#9b179b">
<use href="#sp" transform="translate(274 996.5) scale(3 36)"/><use href="#pk" transform="translate(270 996.5) scale(10 18)"/><use href="#pk" transform="translate(247.3 996.5) scale(5 20)"/><use href="#pk" transform="translate(258.6 996.5) scale(5 16)"/><use href="#pk" transform="translate(236 996.5) scale(8 10)"/><use href="#bm" transform="translate(258 996.5) scale(26 9)"/>
<use href="#sp" transform="translate(440 996.5) scale(3 36)"/><use href="#pk" transform="translate(442 996.5) scale(8 18)"/><use href="#pk" transform="translate(454.5 996.5) scale(5 21)"/><use href="#pk" transform="translate(462 996.5) scale(4 14)"/><use href="#pk" transform="translate(432 996.5) scale(5 9)"/><use href="#pk" transform="translate(470 996.5) scale(5 8)"/>
<use href="#sp" transform="translate(628.8 996.5) scale(4 23)"/><use href="#bm" transform="translate(650 996.5) scale(5 8)"/>
</g>
<g fill="#9e9e9e">
<use href="#bm" transform="translate(249 1080.3) scale(24 14)"/><use href="#bm" transform="translate(235.4 1080.3) scale(9 21)"/><use href="#bm" transform="translate(252.4 1080.3) scale(8 32)"/><use href="#bm" transform="translate(244 1080.3) scale(6 15)"/><use href="#bm" transform="translate(262 1080.3) scale(7 13)"/><use href="#bm" transform="translate(199.3 1080.3) scale(6 8)"/><use href="#bm" transform="translate(171 1080.3) scale(4 3)"/><use href="#bm" transform="translate(290 1080.3) scale(5 3)"/>
<use href="#bm" transform="translate(248 1122.4) scale(18 9)"/><use href="#bm" transform="translate(239.5 1122.4) scale(9 23)"/><use href="#bm" transform="translate(258.6 1122.4) scale(8 15)"/><use href="#bm" transform="translate(249 1122.4) scale(6 10)"/><use href="#bm" transform="translate(171 1122.4) scale(6 4)"/><use href="#bm" transform="translate(208 1122.4) scale(5 2)"/>
<use href="#bm" transform="translate(456 1080.3) scale(18 10)"/><use href="#bm" transform="translate(445.2 1080.3) scale(6 28)"/><use href="#bm" transform="translate(453 1080.3) scale(4 12)"/><use href="#bm" transform="translate(467.4 1080.3) scale(6 35)"/><use href="#bm" transform="translate(474 1080.3) scale(5 18)"/><use href="#bm" transform="translate(431 1080.3) scale(5 6)"/>
<use href="#bm" transform="translate(456 1122.4) scale(16 5)"/><use href="#bm" transform="translate(445 1122.4) scale(6 12)"/><use href="#bm" transform="translate(467.4 1122.4) scale(6 17)"/><use href="#bm" transform="translate(433 1122.4) scale(5 5)"/><use href="#bm" transform="translate(455 1122.4) scale(4 6)"/>
<use href="#bm" transform="translate(668 1080.3) scale(50 12)"/><use href="#bm" transform="translate(627.2 1080.3) scale(5 33)"/><use href="#bm" transform="translate(634 1080.3) scale(5 28)"/><use href="#bm" transform="translate(642.7 1080.3) scale(6 37)"/><use href="#bm" transform="translate(650 1080.3) scale(3 10)"/><use href="#bm" transform="translate(658.2 1080.3) scale(6 20)"/><use href="#bm" transform="translate(671 1080.3) scale(8 29)"/><use href="#bm" transform="translate(684 1080.3) scale(5 16)"/><use href="#bm" transform="translate(704.6 1080.3) scale(8 18)"/><use href="#bm" transform="translate(722.6 1080.3) scale(6 6)"/><use href="#bm" transform="translate(615 1080.3) scale(5 6)"/>
<use href="#bm" transform="translate(668 1122.4) scale(50 7)"/><use href="#bm" transform="translate(627 1122.4) scale(5 12)"/><use href="#bm" transform="translate(640.1 1122.4) scale(7 20)"/><use href="#bm" transform="translate(658 1122.4) scale(6 13)"/><use href="#bm" transform="translate(671 1122.4) scale(8 17)"/><use href="#bm" transform="translate(686 1122.4) scale(6 10)"/><use href="#bm" transform="translate(704.6 1122.4) scale(7 9)"/><use href="#bm" transform="translate(722 1122.4) scale(5 5)"/><use href="#bm" transform="translate(615 1122.4) scale(4 4)"/>
</g>
<g fill="#a31fa3">
<use href="#bm" transform="translate(206 1164.4) scale(6 5)"/><use href="#bm" transform="translate(238 1164.4) scale(7 6)"/><use href="#bm" transform="translate(263.7 1164.4) scale(7 8)"/><use href="#bm" transform="translate(250 1164.4) scale(5 3)"/><use href="#bm" transform="translate(290 1164.4) scale(5 2)"/><use href="#bm" transform="translate(230 1164.4) scale(4 3)"/>
<use href="#bm" transform="translate(243 1206.2) scale(9 5)"/><use href="#bm" transform="translate(258.6 1206.2) scale(7 6)"/><use href="#bm" transform="translate(171 1206.2) scale(6 2)"/>
<use href="#bm" transform="translate(446.8 1164.4) scale(7 9)"/><use href="#bm" transform="translate(464.8 1164.4) scale(7 8)"/><use href="#bm" transform="translate(436 1164.4) scale(5 4)"/>
<use href="#bm" transform="translate(444 1206.2) scale(8 5)"/><use href="#bm" transform="translate(467 1206.2) scale(8 6)"/><use href="#bm" transform="translate(454 1206.2) scale(4 3)"/>
<use href="#bm" transform="translate(645.3 1164.4) scale(7 11)"/><use href="#bm" transform="translate(635 1164.4) scale(6 6)"/><use href="#bm" transform="translate(658 1164.4) scale(5 4)"/><use href="#bm" transform="translate(671 1164.4) scale(6 4)"/><use href="#bm" transform="translate(710 1164.4) scale(5 3)"/>
<use href="#bm" transform="translate(628 1206.2) scale(5 4)"/><use href="#bm" transform="translate(645 1206.2) scale(7 7)"/><use href="#bm" transform="translate(671 1206.2) scale(8 6)"/><use href="#bm" transform="translate(660 1206.2) scale(5 4)"/><use href="#bm" transform="translate(704 1206.2) scale(6 4)"/><use href="#bm" transform="translate(720 1206.2) scale(5 2)"/>
</g>
<g fill="#0808a0">
<use href="#bm" transform="translate(247 1248.2) scale(16 12)"/><use href="#bm" transform="translate(239 1248.2) scale(7 34)"/><use href="#bm" transform="translate(244 1248.2) scale(5 26)"/><use href="#bm" transform="translate(257 1248.2) scale(7 18)"/><use href="#bm" transform="translate(171 1248.2) scale(6 7)"/><use href="#bm" transform="translate(199.3 1248.2) scale(4 5)"/><use href="#bm" transform="translate(213 1248.2) scale(4 4)"/><use href="#bm" transform="translate(289.5 1248.2) scale(5 5)"/><use href="#bm" transform="translate(341 1248.2) scale(3 3)"/>
<use href="#bm" transform="translate(248 1289.7) scale(16 14)"/><use href="#bm" transform="translate(200 1289.7) scale(28 4)"/><use href="#bm" transform="translate(239 1289.7) scale(7 35)"/><use href="#bm" transform="translate(257 1289.7) scale(6 23)"/><use href="#bm" transform="translate(246 1289.7) scale(5 20)"/><use href="#bm" transform="translate(173.5 1289.7) scale(6 6)"/><use href="#bm" transform="translate(204.5 1289.7) scale(6 6)"/><use href="#bm" transform="translate(220 1289.7) scale(6 4)"/><use href="#bm" transform="translate(300 1289.7) scale(6 3)"/>
<use href="#bm" transform="translate(455 1248.2) scale(22 8)"/><use href="#bm" transform="translate(446.8 1248.2) scale(5 23)"/><use href="#bm" transform="translate(453 1248.2) scale(3 10)"/><use href="#bm" transform="translate(467.4 1248.2) scale(6 28)"/><use href="#bm" transform="translate(475 1248.2) scale(5 12)"/><use href="#bm" transform="translate(431 1248.2) scale(5 8)"/><use href="#bm" transform="translate(423 1248.2) scale(3 4)"/><use href="#bm" transform="translate(398 1248.2) scale(3 3)"/>
<use href="#bm" transform="translate(455 1289.7) scale(20 5)"/><use href="#bm" transform="translate(467.4 1289.7) scale(6 26)"/><use href="#bm" transform="translate(444 1289.7) scale(5 8)"/><use href="#bm" transform="translate(454 1289.7) scale(4 8)"/><use href="#bm" transform="translate(432 1289.7) scale(4 5)"/><use href="#bm" transform="translate(398 1289.7) scale(4 3)"/><use href="#bm" transform="translate(490 1289.7) scale(5 2)"/>
<use href="#bm" transform="translate(668 1248.2) scale(48 8)"/><use href="#bm" transform="translate(627 1248.2) scale(5 8)"/><use href="#bm" transform="translate(642.7 1248.2) scale(5 25)"/><use href="#bm" transform="translate(636 1248.2) scale(4 15)"/><use href="#bm" transform="translate(658.2 1248.2) scale(6 18)"/><use href="#bm" transform="translate(671 1248.2) scale(6 21)"/><use href="#bm" transform="translate(686 1248.2) scale(5 10)"/><use href="#bm" transform="translate(704.6 1248.2) scale(7 15)"/><use href="#bm" transform="translate(722 1248.2) scale(5 5)"/>
<use href="#bm" transform="translate(668 1289.7) scale(48 7)"/><use href="#bm" transform="translate(627 1289.7) scale(5 10)"/><use href="#bm" transform="translate(640.1 1289.7) scale(6 21)"/><use href="#bm" transform="translate(658.2 1289.7) scale(6 18)"/><use href="#bm" transform="translate(671 1289.7) scale(6 20)"/><use href="#bm" transform="translate(686 1289.7) scale(5 9)"/><use href="#bm" transform="translate(704.6 1289.7) scale(7 14)"/><use href="#bm" transform="translate(722 1289.7) scale(5 4)"/>
</g>
<path d="M158 1296.7H354M363 1296.7H551M561 1296.7H803" stroke="#2b3fd0" stroke-width="1"/>
<g fill="#0a18b0"><rect x="650.4" y="1293.7" width="41.3" height="6"/><rect x="711.3" y="1291.7" width="10.3" height="10"/><rect x="601" y="1292.7" width="2" height="8"/><rect x="624" y="1293.7" width="1.5" height="6"/></g>
<g fill="none" stroke="#222" stroke-width="2.2"><rect x="157" y="870" width="198" height="435"/><rect x="362.2" y="870" width="189.8" height="435"/><rect x="560.2" y="870" width="243.4" height="435"/></g>
<g stroke="#222" stroke-width="2"><path d="M149.3 1054V1123.3M149.3 1144.5V1212.3M149.3 1235.3V1303.5"/></g>
<path d="M54.4 1078.8V1271.3" stroke="#222" stroke-width="2.5"/>
<g font-size="16" text-anchor="end"><text x="145" y="904.5">CONTROL</text><text x="145" y="944.5">RUNX1</text><text x="145" y="990.5">ETV6-RUNX1</text><text x="145" y="1036">R139G</text><text x="143.5" y="1096.5">CONTROL</text><text x="143" y="1168">ETV6-</text><text x="143" y="1190.5">RUNX1</text><text x="143" y="1273.5">R139G</text></g>
<text transform="translate(40 1180.7) rotate(-90)" font-size="16" text-anchor="middle">H3K27ac</text>

<!-- ================= PANEL G ================= -->
<text x="858" y="1086" font-size="16">g.</text>
<rect x="957" y="1093" width="249" height="220" fill="#fff"/>
<g stroke="#f4f4f4" stroke-width="1"><path d="M996.9 1093V1313M1053.2 1093V1313M1109.5 1093V1313M1165.9 1093V1313M957 1276H1206M957 1222H1206M957 1168.2H1206M957 1114.5H1206"/></g>
<g stroke="#e8e8e8" stroke-width="1.3"><path d="M968.7 1093V1313M1025 1093V1313M1081.3 1093V1313M1137.7 1093V1313M1194 1093V1313M957 1303.1H1206M957 1249H1206M957 1195H1206M957 1141.4H1206"/></g>
<rect x="1094" y="1110" width="104" height="68" fill="#fff"/>
<polygon fill="#6f6f6f" points="1061,1271 1069,1271 1081.3,1292 1093.5,1271 1101.5,1271 1084,1306 1078.5,1306"/>
<path d="M1066 1272L1025 1195" stroke="#c81c22" stroke-width="9" stroke-linecap="round"/>
<path d="M1092 1275L1108 1241" stroke="#c81c22" stroke-width="7" stroke-linecap="round"/>
<g fill="#cf2a33" fill-opacity=".75">
<circle cx="1021.4" cy="1182.8" r="2.8"/><circle cx="1021" cy="1187" r="2.8"/><circle cx="1019" cy="1180" r="2.8"/><circle cx="1014.5" cy="1177.8" r="2.8"/><circle cx="1013.4" cy="1169.7" r="2.8"/><circle cx="1009.7" cy="1163.7" r="2.8"/><circle cx="1007.2" cy="1163.2" r="2.8"/><circle cx="1002.5" cy="1157.9" r="2.8"/><circle cx="1004.3" cy="1150.1" r="2.8"/><circle cx="993.4" cy="1146" r="2.8"/><circle cx="968.7" cy="1103.3" r="2.8"/><circle cx="1017" cy="1175" r="2.8"/><circle cx="1016" cy="1183" r="2.8"/>
<circle cx="1109.7" cy="1237.7" r="2.8"/><circle cx="1113.3" cy="1238.1" r="2.8"/><circle cx="1121.3" cy="1229.4" r="2.8"/><circle cx="1131.5" cy="1210.5" r="2.8"/><circle cx="1104.2" cy="1252.6" r="2.8"/><circle cx="1111" cy="1235" r="2.8"/>
<circle cx="1031" cy="1200" r="2.8"/><circle cx="1040" cy="1222" r="2.8"/><circle cx="1050" cy="1238" r="2.8"/><circle cx="1058" cy="1255" r="2.8"/><circle cx="1097" cy="1262" r="2.8"/><circle cx="1102" cy="1250" r="2.8"/>
</g>
<rect x="957" y="1093" width="249" height="220" fill="none" stroke="#333" stroke-width="1.2"/>
<path d="M953 1303.1h4M953 1249h4M953 1195h4M953 1141.4h4M968.7 1313v4M1025 1313v4M1081.3 1313v4M1137.7 1313v4M1194 1313v4" stroke="#333" stroke-width="1"/>
<g font-size="11.5" text-anchor="end"><text x="950" y="1145.4" fill="#4d4d4d">7.5</text><text x="950" y="1199" fill="#4d4d4d">5.0</text><text x="950" y="1253" fill="#4d4d4d">2.5</text><text x="950" y="1307" fill="#4d4d4d">0.0</text></g>
<g font-size="11.5" text-anchor="middle"><text x="968.7" y="1329.5" fill="#4d4d4d">-2</text><text x="1025" y="1329.5" fill="#4d4d4d">-1</text><text x="1081.3" y="1329.5" fill="#4d4d4d">0</text><text x="1137.7" y="1329.5" fill="#4d4d4d">1</text><text x="1194" y="1329.5" fill="#4d4d4d">2</text></g>
<text x="1081.3" y="1346.5" font-size="14" text-anchor="middle" textLength="151" lengthAdjust="spacingAndGlyphs">Fold, ER/R139G (log2)</text>
<text transform="translate(927 1203.6) rotate(-90)" font-size="15" text-anchor="middle">-log10(p.value)</text>
<text x="1098.8" y="1125" font-size="14" textLength="94" lengthAdjust="spacingAndGlyphs">p.value &lt; 0.05</text>
<g font-size="12" text-anchor="middle"><text x="1149" y="1150">FALSE</text><text x="1146" y="1174.5">TRUE</text></g>
<rect x="1284.2" y="1106.8" width="81.8" height="200.4" fill="#fff"/>
<g stroke="#f4f4f4" stroke-width="1"><path d="M1284.2 1266.5H1366M1284.2 1203.2H1366M1284.2 1140H1366"/></g>
<g stroke="#e8e8e8" stroke-width="1.3"><path d="M1284.2 1298H1366M1284.2 1234.9H1366M1284.2 1171.5H1366M1284.2 1108.4H1366M1306.3 1106.8V1307.2M1343.7 1106.8V1307.2"/></g>
<rect x="1289.6" y="1116.5" width="33.4" height="181.5" fill="#78787c"/>
<rect x="1327" y="1272.2" width="33.5" height="25.8" fill="#78787c"/>
<rect x="1284.2" y="1106.8" width="81.8" height="200.4" fill="none" stroke="#333" stroke-width="1.2"/>
<path d="M1280.5 1298h3.7M1280.5 1234.9h3.7M1280.5 1171.5h3.7M1280.5 1108.4h3.7M1306.3 1307.2v4M1343.7 1307.2v4" stroke="#333" stroke-width="1"/>
<g font-size="13" text-anchor="end"><text x="1275" y="1113" fill="#4d4d4d">1500</text><text x="1275" y="1176" fill="#4d4d4d">1000</text><text x="1275" y="1239.5" fill="#4d4d4d">500</text><text x="1275" y="1302.5" fill="#4d4d4d">0</text></g>
<g font-size="13" text-anchor="middle"><text x="1306.3" y="1326" fill="#4d4d4d">DN</text><text x="1343.7" y="1326" fill="#4d4d4d">UP</text></g>
<text transform="translate(1237.5 1206) rotate(-90)" font-size="16.5" text-anchor="middle">Number of peaks</text>

<!-- ================= PANEL H ================= -->
<text x="6" y="1354" font-size="16">h.</text>
<rect x="80.5" y="1379.8" width="217.9" height="140.7" fill="#fff"/>
<g stroke="#f4f4f4" stroke-width="1"><path d="M80.5 1402H298.4M80.5 1434H298.4M80.5 1466H298.4M80.5 1498H298.4"/></g>
<g stroke="#e8e8e8" stroke-width="1.2"><path d="M80.5 1386H298.4M80.5 1418.1H298.4M80.5 1450.1H298.4M80.5 1482H298.4M80.5 1514H298.4M91.7 1379.8V1520.5M111.2 1379.8V1520.5M130.7 1379.8V1520.5M150.2 1379.8V1520.5M169.7 1379.8V1520.5M189.2 1379.8V1520.5M208.7 1379.8V1520.5M228.2 1379.8V1520.5M247.7 1379.8V1520.5M267.2 1379.8V1520.5M286.7 1379.8V1520.5"/></g>
<g fill="#f8766d"><rect x="83" y="1386" width="17.4" height="9.5"/><rect x="102.5" y="1386" width="17.4" height="11"/><rect x="122" y="1386" width="17.4" height="14.3"/><rect x="141.5" y="1386" width="17.4" height="18.4"/><rect x="161" y="1386" width="17.4" height="18.7"/><rect x="180.5" y="1386" width="17.4" height="23.6"/><rect x="200" y="1386" width="17.4" height="23.6"/><rect x="219.5" y="1386" width="17.4" height="27.6"/><rect x="239" y="1386" width="17.4" height="31.9"/><rect x="258.5" y="1386" width="17.4" height="36"/><rect x="278" y="1386" width="17.4" height="43.4"/></g>
<g fill="#00ba38"><rect x="83" y="1395.5" width="17.4" height="99.6"/><rect x="102.5" y="1397" width="17.4" height="102.4"/><rect x="122" y="1400.3" width="17.4" height="100.8"/><rect x="141.5" y="1404.4" width="17.4" height="98.3"/><rect x="161" y="1404.7" width="17.4" height="100.7"/><rect x="180.5" y="1409.6" width="17.4" height="96.8"/><rect x="200" y="1409.6" width="17.4" height="96.6"/><rect x="219.5" y="1413.6" width="17.4" height="94"/><rect x="239" y="1417.9" width="17.4" height="89.8"/><rect x="258.5" y="1422" width="17.4" height="88.5"/><rect x="278" y="1429.4" width="17.4" height="80.5"/></g>
<g fill="#619cff"><rect x="83" y="1495.1" width="17.4" height="18.9"/><rect x="102.5" y="1499.4" width="17.4" height="14.6"/><rect x="122" y="1501.1" width="17.4" height="12.9"/><rect x="141.5" y="1502.7" width="17.4" height="11.3"/><rect x="161" y="1505.4" width="17.4" height="8.6"/><rect x="180.5" y="1506.4" width="17.4" height="7.6"/><rect x="200" y="1506.2" width="17.4" height="7.8"/><rect x="219.5" y="1507.6" width="17.4" height="6.4"/><rect x="239" y="1507.7" width="17.4" height="6.3"/><rect x="258.5" y="1510.5" width="17.4" height="3.5"/><rect x="278" y="1509.9" width="17.4" height="4.1"/></g>
<rect x="80.5" y="1379.8" width="217.9" height="140.7" fill="none" stroke="#333" stroke-width="1.2"/>
<path d="M76.5 1386h4M76.5 1418.1h4M76.5 1450.1h4M76.5 1482h4M76.5 1514h4M91.7 1520.5v4M111.2 1520.5v4M130.7 1520.5v4M150.2 1520.5v4M169.7 1520.5v4M189.2 1520.5v4M208.7 1520.5v4M228.2 1520.5v4M247.7 1520.5v4M267.2 1520.5v4M286.7 1520.5v4" stroke="#333" stroke-width="1"/>
<g font-size="11.5" text-anchor="end"><text x="73.4" y="1390" fill="#4d4d4d">1.00</text><text x="73.4" y="1422" fill="#4d4d4d">0.75</text><text x="73.4" y="1454" fill="#4d4d4d">0.50</text><text x="73.4" y="1486" fill="#4d4d4d">0.25</text><text x="73.4" y="1518" fill="#4d4d4d">0.00</text></g>
<rect x="315" y="1397.8" width="24.5" height="25.2" fill="#f8766d"/>
<rect x="315" y="1425" width="24.5" height="25" fill="#00ba38"/>
<rect x="315" y="1452" width="24.5" height="25" fill="#619cff"/>
<g font-size="13.5"><text x="350" y="1415.5">R1</text><text x="350" y="1443">R1_ER</text><text x="350" y="1470">ER</text></g>
<polygon points="87,1531 292.4,1531 292.4,1568" fill="url(#gTri)"/>
<text x="231" y="1546.5" font-size="16.5" text-anchor="middle" fill="#222">ER/R139G</text>
</svg>
</body></html>
